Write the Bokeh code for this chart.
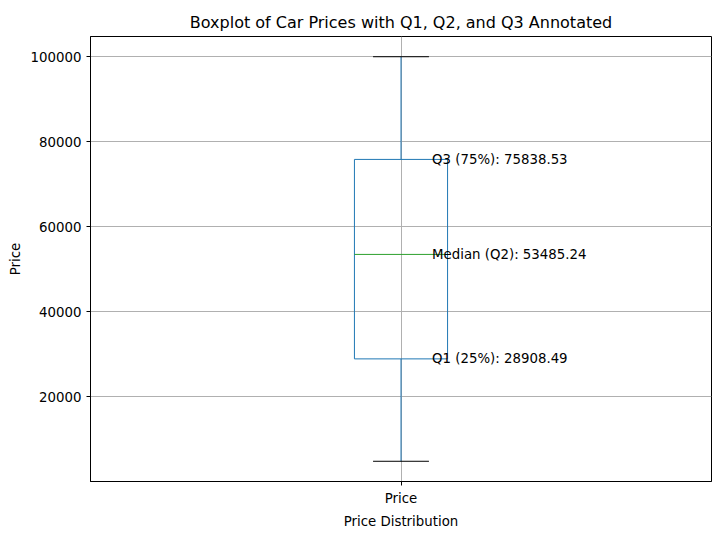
from bokeh.plotting import figure
from bokeh.models import FixedTicker, Range1d
from bokeh.core.properties import value
from bokeh.embed import file_html
from bokeh.resources import INLINE

category = ["Price"]
low = [4816]
q1 = [28908.49]
q2 = [53485.24]
q3 = [75838.53]
high = [100000]
labels = ["Q1 (25%): 28908.49", "Median (Q2): 53485.24", "Q3 (75%): 75838.53"]
label_vals = [q1[0], q2[0], q3[0]]

p = figure(width=713, height=531, output_backend="svg", toolbar_location=None,
           title="Boxplot of Car Prices with Q1, Q2, and Q3 Annotated",
           x_range=Range1d(0.5, 1.5), y_range=Range1d(57, 104759),
           min_border_left=90, min_border_right=2, min_border_top=36, min_border_bottom=33)
p.title.align = "center"
p.title.text_font = "DejaVu Sans"
p.title.text_font_size = "12pt"
p.title.text_font_style = "normal"
p.title.text_color = "black"
p.outline_line_color = "black"

p.xaxis.ticker = FixedTicker(ticks=[1])
p.xaxis.major_label_overrides = {1: category[0]}
p.yaxis.ticker = FixedTicker(ticks=[20000, 40000, 60000, 80000, 100000])
p.yaxis.formatter.use_scientific = False
p.xaxis.axis_label = "Price Distribution"
p.yaxis.axis_label = "Price"
for ax in (p.xaxis, p.yaxis):
    ax.axis_label_text_font = "DejaVu Sans"
    ax.axis_label_text_font_style = "normal"
    ax.axis_label_text_font_size = "10pt"
    ax.axis_label_text_color = "black"
    ax.major_label_text_font = "DejaVu Sans"
    ax.major_label_text_font_size = "10pt"
    ax.major_label_text_color = "black"
    ax.axis_line_color = "black"
    ax.major_tick_line_color = "black"
    ax.minor_tick_line_color = None
    ax.major_tick_out = 4
    ax.major_tick_in = 0
p.grid.grid_line_color = "#b0b0b0"
p.grid.grid_line_alpha = 1.0

x = [1]
blue = "#1f77b4"
p.quad(left=[0.925], right=[1.075], bottom=q1, top=q3, fill_color=None, line_color=blue)
p.segment(x, q3, x, high, line_color=blue)
p.segment(x, low, x, q1, line_color=blue)
p.segment([0.955], high, [1.045], high, line_color="black")
p.segment([0.955], low, [1.045], low, line_color="black")
p.segment([0.925], q2, [1.075], q2, line_color="#2ca02c")

p.text([1.05] * 3, label_vals, text=labels, text_baseline="middle",
       text_font_size="10pt", text_font=value("DejaVu Sans"), text_color="black")

open("out.html", "w").write(file_html(p, INLINE))
